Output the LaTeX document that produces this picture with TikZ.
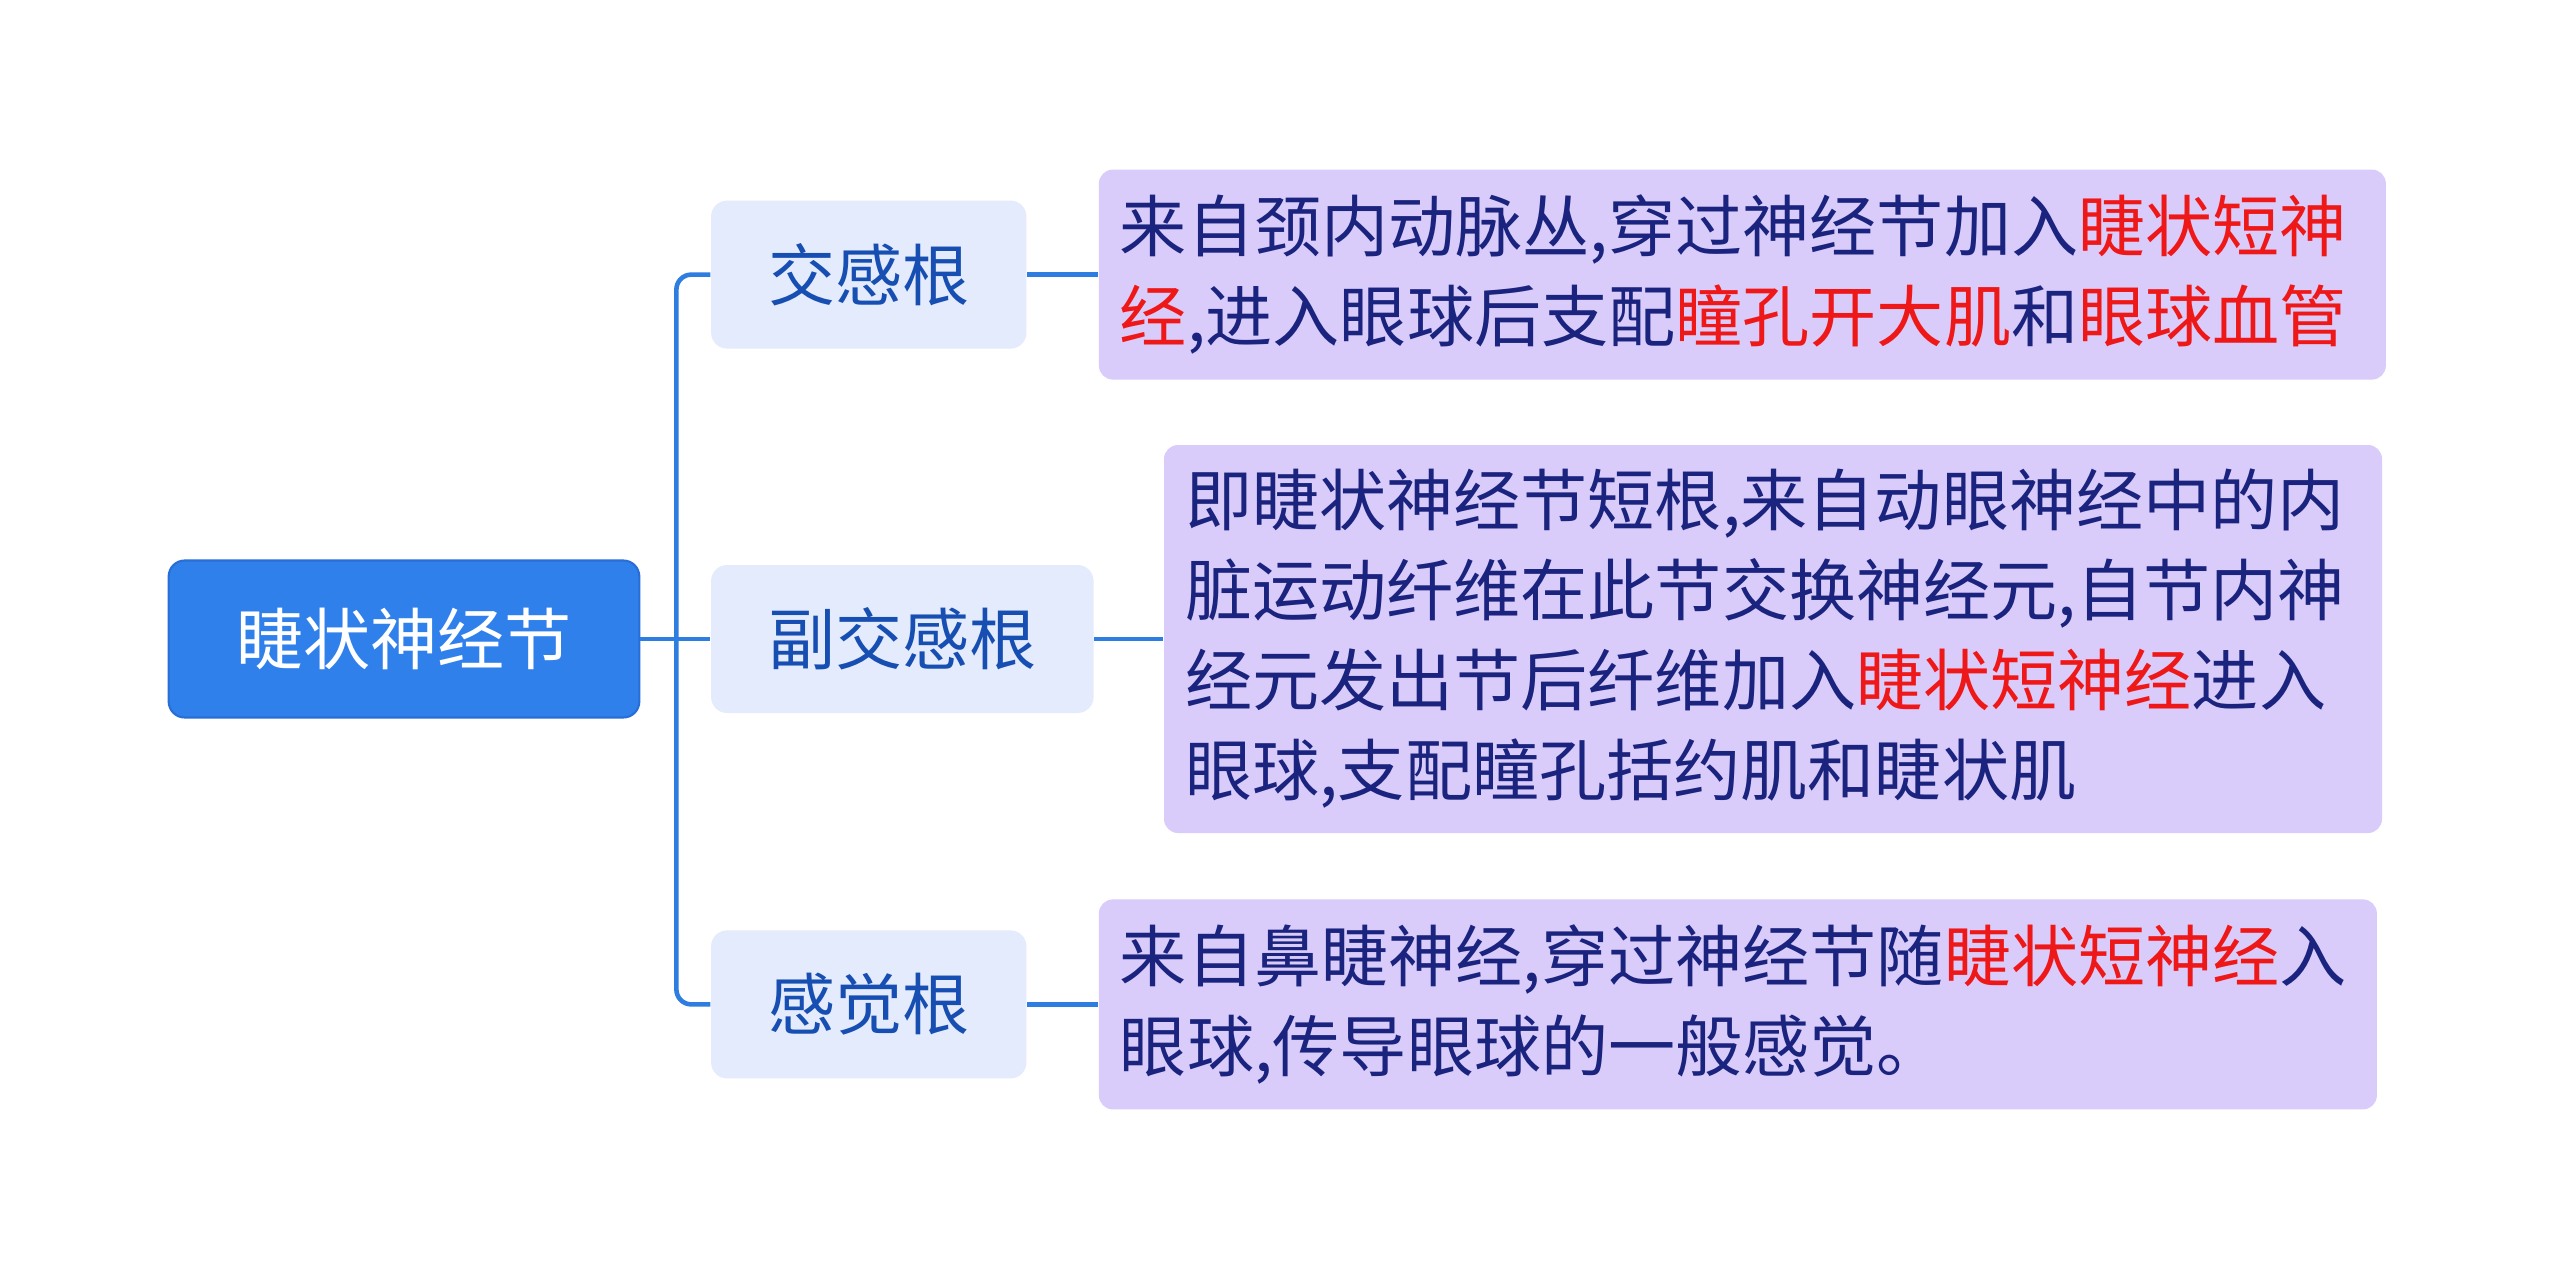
\documentclass[tikz,border=0pt]{standalone}
\usepackage{fontspec}
\setmainfont{Noto Sans CJK SC}
\usetikzlibrary{positioning}
\definecolor{rootblue}{RGB}{48,128,236}
\definecolor{rootedge}{RGB}{40,110,215}
\definecolor{rootsfill}{RGB}{228,235,252}
\definecolor{rootstext}{RGB}{22,78,178}
\definecolor{notefill}{RGB}{218,204,250}
\definecolor{notetext}{RGB}{26,35,126}
\definecolor{hlred}{RGB}{238,24,24}
\definecolor{linkblue}{RGB}{46,125,225}
\newcommand{\hl}[1]{\textcolor{hlred}{#1}}

\begin{document}
\begin{tikzpicture}[node distance=0.7cm,
    every node/.style={font=\fontsize{19.1pt}{25.6pt}\selectfont},
    rootbox/.style={rectangle, draw=rootedge, line width=0.6pt, fill=rootblue, rounded corners=0.16cm, text=white, inner xsep=0.675cm, minimum height=1.57cm},
    rootsbox/.style={rectangle, fill=rootsfill, rounded corners=0.16cm, text=rootstext, inner xsep=0.57cm, minimum height=1.48cm},
    notebox/.style={rectangle, fill=notefill, rounded corners=0.14cm, text=notetext, align=left, inner xsep=0.21cm, inner ysep=0cm},
    link/.style={draw=linkblue, line width=1.3pt}]
        \fill[white] (0,0) rectangle (25.6,-12.79);

        \node[rootbox] (ganglion) at (4.04,-6.39) {睫状神经节};
        \node[rootsbox] (parasymp) [right=0.7cm of ganglion] {副交感根};
        \node[rootsbox] (symp) [above=2.15cm of parasymp.north west, anchor=south west] {交感根};
        \node[rootsbox] (sensory) [below=2.16cm of parasymp.south west, anchor=north west] {感觉根};

        \node[notebox, text width=12.45cm, minimum height=2.1cm] (sympnote) [right=0.71cm of symp] {来自颈内动脉丛,穿过神经节加入\hl{睫状短神}\\\hl{经},进入眼球后支配\hl{瞳孔开大肌}和\hl{眼球血管}};
        \node[notebox, text width=11.76cm, minimum height=3.88cm] (parasympnote) [right=0.69cm of parasymp] {即睫状神经节短根,来自动眼神经中的内\\脏运动纤维在此节交换神经元,自节内神\\经元发出节后纤维加入\hl{睫状短神经}进入\\眼球,支配瞳孔括约肌和睫状肌};
        \node[notebox, text width=12.36cm, minimum height=2.1cm] (sensorynote) [right=0.71cm of sensory] {来自鼻睫神经,穿过神经节随\hl{睫状短神经}入\\眼球,传导眼球的一般感觉。};

        \coordinate [right=0.36cm of ganglion] (fork);

        \draw[link] (ganglion) -- (parasymp);
        \draw[link, rounded corners=0.15cm] (symp.west) -| (fork) |- (sensory.west);
        \draw[link] (symp) -- (sympnote);
        \draw[link] (parasymp) -- (parasympnote);
        \draw[link] (sensory) -- (sensorynote);
    \end{tikzpicture}
\end{document}
